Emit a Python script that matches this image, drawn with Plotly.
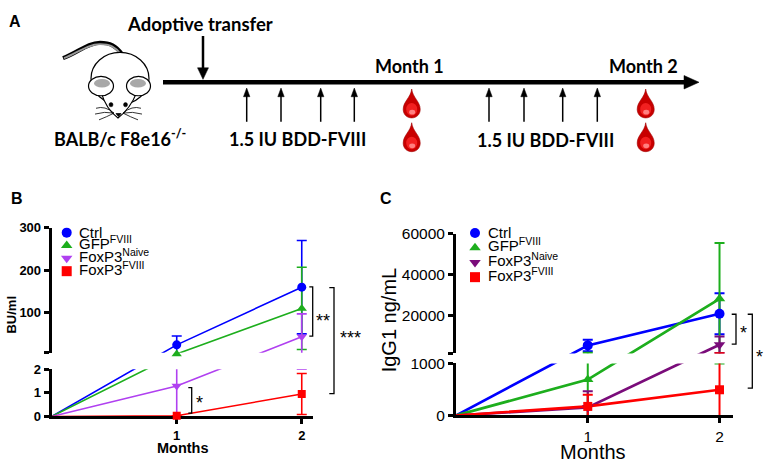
import plotly.graph_objects as go

W, H = 767, 471
ARIAL = "Liberation Sans, Arial, sans-serif"
CALIBRI = "Lato, Open Sans, sans-serif"

months = [0, 1, 2]
labels = ["Ctrl", "GFP<sup>FVIII</sup>", "FoxP3<sup>Naive</sup>", "FoxP3<sup>FVIII</sup>"]
symbols = ["circle", "triangle-up", "triangle-down", "square"]

# panel B: inhibitor titre, BU/ml (month 0 = start)
bu_ctrl = [0, 24, 160]
bu_gfp = [0, 2.5, 110]
bu_naive = [0, 1.29, 43]
bu_fviii = [0, 0.03, 0.95]
# error bars at months 1 and 2: (up, down)
bu_ctrl_err = ([21, 110], [21, 110])
bu_gfp_err = ([0, 97], [0, 97])
bu_naive_err = ([1.3, 54], [1.3, 41])
bu_fviii_err = ([0, 0.87], [0, 0.87])
bu_ticks_low = [0, 1, 2]
bu_ticks_high = [100, 200, 300]

# panel C: IgG1 ng/mL
igg_ctrl = [0, 5550, 21000]
igg_gfp = [0, 690, 28300]
igg_naive = [0, 155, 5900]
igg_fviii = [0, 174, 494]
igg_ctrl_err = ([2800, 10000], [2800, 10000])
igg_gfp_err = ([1250, 27300], [1250, 27300])
igg_naive_err = ([310, 4000], [310, 4000])
igg_fviii_err = ([225, 1200], [225, 1200])
igg_ticks_low = [0, 1000]
igg_ticks_high = [20000, 40000, 60000]

colors_b = ["#0000FF", "#1DAE1D", "#B040F0", "#FF0000"]
colors_c = ["#0000FF", "#1DAE1D", "#7A0C7A", "#FF0000"]


def pxx(x):
    return x / W


def pxy(y):
    return 1 - y / H


class BrokenAxis:
    # two linear pieces, positions counted in pixels above the x axis
    def __init__(self, low, high, bottom, low_top, high_bottom, top):
        self.low, self.high = low, high
        self.bottom, self.low_top, self.high_bottom, self.top = bottom, low_top, high_bottom, top
        self.h_low = bottom - low_top
        self.gap = low_top - high_bottom
        self.h_high = high_bottom - top

    def d(self, v):
        lo0, lo1 = self.low
        if v <= lo1:
            return (v - lo0) / (lo1 - lo0) * self.h_low
        hi0, hi1 = self.high
        return self.h_low + self.gap + (v - hi0) / (hi1 - hi0) * self.h_high


fig = go.Figure()
layout_axes = {}


def panel(xn, yl, yh, ym, sc, left, right, xmax, data, colors, tick_low, tick_high,
          tickfont, bold, lw, ew, msize):
    fmt = (lambda s: f"<b>{s}</b>") if bold else (lambda s: s)
    line_traces, err_traces, mark_traces = [], [], []
    for (vals, (hi, lo)), color, sym, ms in zip(data, colors, symbols, msize):
        y = [sc.d(v) for v in vals]
        plus = [sc.d(v + e) - sc.d(v) for v, e in zip(vals[1:], hi)]
        minus = [sc.d(v) - sc.d(v - e) for v, e in zip(vals[1:], lo)]
        for ya in (yl, yh):
            line_traces.append(go.Scatter(
                x=months, y=y, xaxis=xn, yaxis=ya, mode="lines",
                line=dict(color=color, width=lw), showlegend=False, hoverinfo="skip"))
            err_traces.append(go.Scatter(
                x=months[1:], y=y[1:], xaxis=xn, yaxis=ya, mode="markers",
                marker=dict(size=1, opacity=0),
                error_y=dict(type="data", symmetric=False, array=plus, arrayminus=minus,
                             color=color, thickness=ew, width=5),
                showlegend=False, hoverinfo="skip"))
        mark_traces.append(go.Scatter(
            x=months[1:], y=y[1:], xaxis=xn, yaxis=ym, mode="markers",
            marker=dict(symbol=sym, color=color, size=ms), cliponaxis=False,
            showlegend=False, hoverinfo="skip"))
    fig.add_traces(line_traces + err_traces + mark_traces)

    common = dict(showline=True, linecolor="black", linewidth=3, ticks="outside",
                  ticklen=5, tickwidth=2.5, tickcolor="black", showgrid=False,
                  zeroline=False, fixedrange=True, tickfont=tickfont)
    xk = "xaxis" + xn[1:]
    layout_axes[xk] = dict(domain=[pxx(left), pxx(right)], range=[0, xmax],
                           anchor=yl, tickvals=[1, 2], ticktext=[fmt("1"), fmt("2")], **common)
    layout_axes["yaxis" + yl[1:]] = dict(
        domain=[pxy(sc.bottom), pxy(sc.low_top)], range=[0, sc.h_low], anchor=xn,
        tickvals=[sc.d(v) for v in tick_low], ticktext=[fmt(str(v)) for v in tick_low], **common)
    base = sc.h_low + sc.gap
    layout_axes["yaxis" + yh[1:]] = dict(
        domain=[pxy(sc.high_bottom), pxy(sc.top)], range=[base, base + sc.h_high], anchor=xn,
        tickvals=[base] + [sc.d(v) for v in tick_high],
        ticktext=[""] + [fmt(str(v)) for v in tick_high], **common)
    layout_axes["yaxis" + ym[1:]] = dict(
        domain=[pxy(sc.bottom), pxy(sc.top)], range=[0, base + sc.h_high], anchor=xn,
        visible=False, fixedrange=True)


sc_b = BrokenAxis((0, 2), (5.2, 300), 422.7, 373.7, 356.7, 227)
panel("x2", "y2", "y3", "y4", sc_b, 51.7, 313, 2.09,
      [(bu_ctrl, bu_ctrl_err), (bu_gfp, bu_gfp_err), (bu_naive, bu_naive_err), (bu_fviii, bu_fviii_err)],
      colors_b, bu_ticks_low, bu_ticks_high, dict(family=ARIAL, size=13, color="black"),
      True, 1.6, 1.6, [9, 9, 9, 8])

sc_c = BrokenAxis((0, 1000), (1647, 60000), 421.7, 367.7, 357.3, 233.3)
panel("x3", "y5", "y6", "y7", sc_c, 456, 732.7, 2.1,
      [(igg_ctrl, igg_ctrl_err), (igg_gfp, igg_gfp_err), (igg_naive, igg_naive_err), (igg_fviii, igg_fviii_err)],
      colors_c, igg_ticks_low, igg_ticks_high, dict(family=ARIAL, size=15.5, color="black"),
      False, 2.7, 2, [10, 10, 10, 9])

# legends drawn by hand on a full-page pixel axis
leg_b_y = [232, 245.3, 258.6, 272]
leg_c_y = [232.3, 247.6, 262.9, 278.2]
fig.add_trace(go.Scatter(x=[66.7] * 4, y=leg_b_y, xaxis="x", yaxis="y", mode="markers",
                         marker=dict(symbol=symbols, color=colors_b, size=10),
                         cliponaxis=False, showlegend=False, hoverinfo="skip"))
fig.add_trace(go.Scatter(x=[475] * 4, y=leg_c_y, xaxis="x", yaxis="y", mode="markers",
                         marker=dict(symbol=symbols, color=colors_c, size=10),
                         cliponaxis=False, showlegend=False, hoverinfo="skip"))

annotations = []


def note(text, x, y, size, family=ARIAL, bold=False, xanchor="center", angle=0):
    annotations.append(dict(text=f"<b>{text}</b>" if bold else text, x=x, y=y, xref="x", yref="y",
                            showarrow=False, xanchor=xanchor, yanchor="middle", textangle=angle,
                            font=dict(family=family, size=size, color="black")))


for lab, y in zip(labels, leg_b_y):
    note(lab, 77, y - (3 if "sup" in lab else 0), 15, xanchor="left")
for lab, y in zip(labels, leg_c_y):
    note(lab, 485.5, y - (3 if "sup" in lab else 0), 15, xanchor="left")

# panel labels and axis titles
note("A", 15, 13, 16, bold=True)
note("B", 16.7, 197, 16, bold=True)
note("C", 385.7, 197, 16, bold=True)
note("BU/ml", 12, 317, 13, bold=True, angle=-90)
note("Months", 182.5, 455, 14.5, bold=True)
note("IgG1 ng/mL", 389, 323, 20, angle=-90)
note("Months", 593, 460, 20)

# significance marks
note("**", 323, 324, 18, xanchor="center")
note("***", 350, 341, 18)
note("*", 194, 409, 18, xanchor="left")
note("*", 743, 336, 18)
note("*", 759.5, 361, 18)

# panel A texts
note("Adoptive transfer", 200, 16, 18.5, family=CALIBRI, bold=True)
note("Month 1", 409, 59, 18, family=CALIBRI, bold=True)
note("Month 2", 643, 59, 18, family=CALIBRI, bold=True)
note("BALB/c F8e16<sup>-/-</sup>", 120, 134, 18, family=CALIBRI, bold=True)
note("1.5 IU BDD-FVIII", 297.5, 135, 18, family=CALIBRI, bold=True)
note("1.5 IU BDD-FVIII", 545, 136, 18, family=CALIBRI, bold=True)

shapes = []


def path(d, fill=None, color="black", width=1.5):
    s = dict(type="path", path=d, xref="x", yref="y", line=dict(color=color, width=width))
    if fill:
        s["fillcolor"] = fill
    shapes.append(s)


def oval(cx, cy, rx, ry, fill, color="black", width=1.2):
    shapes.append(dict(type="circle", xref="x", yref="y", x0=cx - rx, x1=cx + rx,
                       y0=cy - ry, y1=cy + ry, fillcolor=fill,
                       line=dict(color=color, width=width)))


# brackets
for x0, x1, y0, y1 in [(309.3, 312.7, 288.3, 339.3), (329.3, 334, 289, 399),
                       (188.3, 191.7, 392.7, 419.3), (731.7, 736, 316.7, 347.7),
                       (747.7, 752.3, 316.7, 393.3)]:
    path(f"M{x0},{y0} H{x1} V{y1} H{x0}", width=1.3)

# timeline
path("M163,76 H686", width=4.5)
path("M684,69 L699,76 L684,83 Z", fill="black", width=0.5)
path("M203,28 V64", width=2.5)
path("M197.5,61 L203,73 L208.5,61 Z", fill="black", width=0.5)
for x in [246.7, 281, 320.7, 354.3, 489, 524, 562.7, 597.3]:
    path(f"M{x},117 V89", width=1.5)
    path(f"M{x - 3.2},91 L{x},82 L{x + 3.2},91 Z", fill="black", width=0.5)


def drop(cx, ty):
    path(f"M{cx},{ty} C{cx + 1},{ty + 9} {cx + 8.5},{ty + 13} {cx + 8.5},{ty + 21} "
         f"C{cx + 8.5},{ty + 26.5} {cx + 4.8},{ty + 30} {cx},{ty + 30} "
         f"C{cx - 4.8},{ty + 30} {cx - 8.5},{ty + 26.5} {cx - 8.5},{ty + 21} "
         f"C{cx - 8.5},{ty + 13} {cx - 1},{ty + 9} {cx},{ty} Z",
         fill="#C80000", color="#A00000", width=0.6)
    oval(cx, ty + 21, 5.5, 6.5, "#F22020", color="rgba(0,0,0,0)", width=0)
    oval(cx + 0.5, ty + 24, 3, 2.5, "#FF8080", color="rgba(0,0,0,0)", width=0)


for cx in [411.7, 645.7]:
    drop(cx, 83)
    drop(cx, 118)

# mouse
path("M63,51 C78,45 88,35 100,35 C110,35 116,38 122,47", width=4.2)
path("M64,51 C78,45 88,36.5 100,36.5 C110,36.5 115,39 121,47", color="#9A9A9A", width=1.8)
oval(120, 72, 29, 27, "white")
path("M101,86 Q106,104 118,113 Q130,104 137,86 Z", fill="white", color="rgba(0,0,0,0)", width=0)
path("M101,86 Q106,104 118,113 Q130,104 137,86", width=1.2)
oval(101, 80, 12.5, 10, "white")
oval(138.5, 80, 12, 10, "white")
oval(102, 77, 8, 4.5, "#A8A8A8", color="rgba(0,0,0,0)", width=0)
oval(138, 77, 8, 4.5, "#A8A8A8", color="rgba(0,0,0,0)", width=0)
oval(111, 99.3, 2, 2.2, "black", width=0.5)
oval(125.5, 99.3, 2, 2.2, "black", width=0.5)
path("M116,108.5 L121,108.5 L118.5,111.5 Z", fill="black", width=0.8)
for wx, wy in [(96, 103), (95, 109), (99, 115)]:
    path(f"M114,108 Q{(114 + wx) / 2},{wy - 3} {wx},{wy}", width=0.8)
for wx, wy in [(141, 103), (142, 109), (138, 115)]:
    path(f"M123,108 Q{(123 + wx) / 2},{wy - 3} {wx},{wy}", width=0.8)

fig.update_layout(
    width=W, height=H, margin=dict(l=0, r=0, t=0, b=0),
    paper_bgcolor="white", plot_bgcolor="rgba(0,0,0,0)",
    showlegend=False,
    xaxis=dict(domain=[0, 1], range=[0, W], visible=False, fixedrange=True),
    yaxis=dict(domain=[0, 1], range=[H, 0], visible=False, fixedrange=True),
    annotations=annotations, shapes=shapes,
    **layout_axes,
)

# the page's default body margin would push the 767x471 figure off the window
fig.write_html("out.html", config={"displayModeBar": False},
               post_script="document.body.style.margin='0';")
